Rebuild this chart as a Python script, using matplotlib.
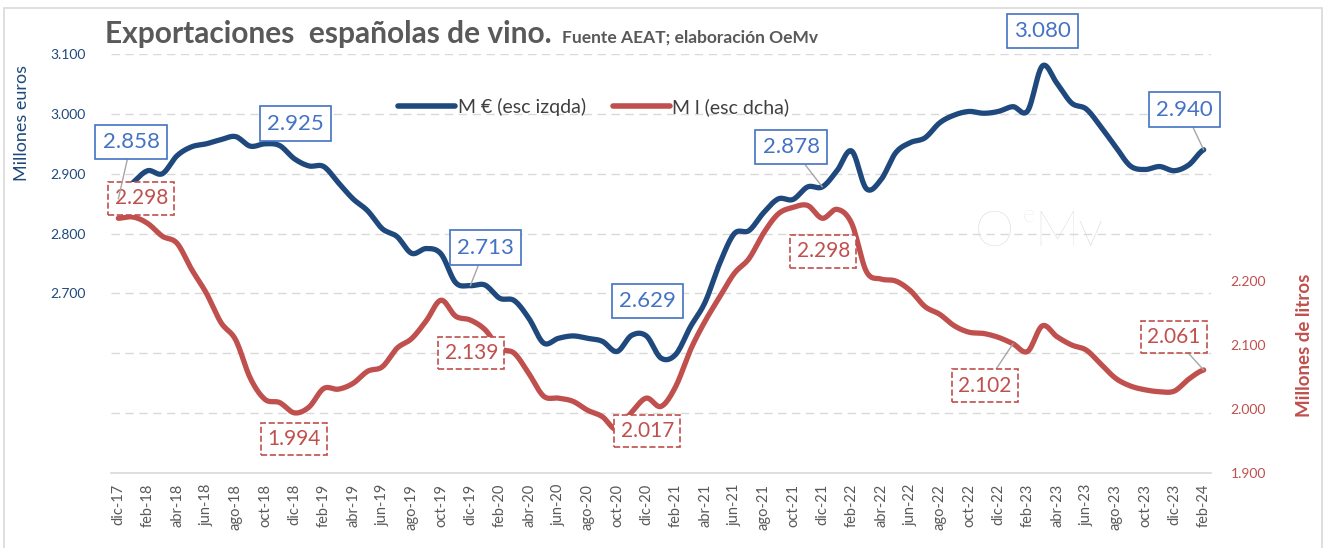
import numpy as np
import matplotlib
matplotlib.use('Agg')
import matplotlib.pyplot as plt
from matplotlib.patches import Rectangle
from matplotlib.lines import Line2D

plt.rcParams['font.family'] = ['Lato', 'DejaVu Sans']

# ---------------- data ----------------
month_names = ['ene', 'feb', 'mar', 'abr', 'may', 'jun', 'jul', 'ago', 'sep', 'oct', 'nov', 'dic']
categories = ['dic-17'] + [f'{m}-{y}' for y in range(18, 24) for m in month_names] + ['ene-24', 'feb-24']

euros = [2858, 2885, 2905, 2900, 2930, 2945, 2950, 2957, 2962, 2946,
         2950, 2947, 2925, 2913, 2912, 2885, 2858, 2838, 2808, 2795,
         2767, 2775, 2766, 2718, 2713, 2714, 2692, 2688, 2658, 2617,
         2625, 2629, 2625, 2620, 2603, 2630, 2629, 2592, 2598, 2644,
         2685, 2750, 2800, 2805, 2835, 2858, 2857, 2878, 2878, 2905,
         2938, 2875, 2890, 2935, 2952, 2960, 2985, 2998, 3004, 3001,
         3004, 3012, 3005, 3080, 3051, 3018, 3008, 2978, 2945, 2913,
         2907, 2912, 2905, 2915, 2940]

litros = [2298, 2300, 2290, 2270, 2259, 2218, 2181, 2135, 2108, 2048,
          2015, 2010, 1994, 2003, 2032, 2031, 2040, 2059, 2066, 2095,
          2110, 2138, 2170, 2145, 2139, 2124, 2095, 2087, 2055, 2020,
          2017, 2012, 1998, 1988, 1968, 1995, 2017, 2004, 2035, 2092,
          2137, 2175, 2212, 2235, 2275, 2305, 2315, 2318, 2298, 2312,
          2290, 2215, 2203, 2200, 2185, 2160, 2148, 2130, 2120, 2118,
          2112, 2102, 2090, 2130, 2113, 2100, 2092, 2070, 2048, 2036,
          2030, 2027, 2028, 2047, 2061]

# labelled points: (index, offset_x_px, offset_y_px, leader)
euro_labels = [(0, 13, 57, True), (12, 1, 35, False), (24, 15, 38, True),
               (36, 1, 35, False), (48, -31, 40, True), (63, 0, 35, False),
               (74, -19, 40, True)]
litro_labels = [(0, 23, 20, False), (12, 0, -26, False), (24, 1, -33, False),
                (36, 1, -33, False), (48, 1, -33, False), (61, -28, -42, True),
                (74, -30, 33, True)]

left_ticks = [2400, 2500, 2600, 2700, 2800, 2900, 3000, 3100]
right_ticks = [1900, 2000, 2100, 2200]

BLUE = '#1F497D'
RED = '#C0504D'
LBLUE = '#4472C4'
GREY = '#595959'


def fmt(v):
    return f'{v / 1000:.3f}'


def catmull(y, steps=12):
    y = np.asarray(y, float)
    p = np.concatenate([[y[0]], y, [y[-1]]])
    t = np.linspace(0, 1, steps, endpoint=False)
    xs, ys = [], []
    for i in range(len(y) - 1):
        p0, p1, p2, p3 = p[i], p[i + 1], p[i + 2], p[i + 3]
        yy = 0.5 * ((2 * p1) + (-p0 + p2) * t + (2 * p0 - 5 * p1 + 4 * p2 - p3) * t ** 2
                    + (-p0 + 3 * p1 - 3 * p2 + p3) * t ** 3)
        xs.append(i + t)
        ys.append(yy)
    xs.append([len(y) - 1])
    ys.append([y[-1]])
    return np.concatenate(xs), np.concatenate(ys)


W, H = 1324, 548
fig = plt.figure(figsize=(W / 100, H / 100), dpi=100)
fig.patch.set_facecolor('white')

# outer frame
fig.patches.append(Rectangle((4 / W, -0.02), (1322 - 4) / W, 1 - 8 / H + 0.02,
                             transform=fig.transFigure, fill=False,
                             ec='#D9D9D9', lw=1.2))

L, R, T, B = 111, 1211, 54, 473
ax = fig.add_axes([L / W, 1 - B / H, (R - L) / W, (B - T) / H])
ax2 = ax.twinx()

x = np.arange(len(categories))

# gridlines
ax.set_ylim(2400, 3100)
ax.set_xlim(-0.5, len(categories) - 0.5)
ax.set_yticks(left_ticks)
ax.set_yticklabels([fmt(v) if v >= 2700 else '' for v in left_ticks])
for v in left_ticks[1:]:
    ax.axhline(v, color='#D9D9D9', lw=1.0, ls=(0, (6, 4)), zorder=0)

ax.tick_params(axis='y', length=0, pad=18, labelsize=10, labelcolor=BLUE)
ax.set_xticks(x[::2])
ax.set_xticklabels(categories[::2], rotation=90, fontsize=10.5, color=GREY)
ax.tick_params(axis='x', length=0, pad=8)
for s in ['top', 'left', 'right']:
    ax.spines[s].set_visible(False)
ax.spines['bottom'].set_color('#D9D9D9')
ax.spines['bottom'].set_linewidth(1.2)

ax2.set_ylim(1900, 1900 + (B - T) / 0.64)
ax2.set_yticks(right_ticks)
ax2.set_yticklabels([fmt(v) for v in right_ticks])
ax2.tick_params(axis='y', length=0, pad=14, labelsize=10, labelcolor=RED)
for s in ['top', 'left', 'right', 'bottom']:
    ax2.spines[s].set_visible(False)

# lines
sx, sy = catmull(euros)
ax.plot(sx, sy, color=BLUE, lw=3.8, solid_capstyle='round', zorder=3)
sx2, sy2 = catmull(litros)
ax2.plot(sx2, sy2, color=RED, lw=3.8, solid_capstyle='round', zorder=3)

# data labels
for i, dx, dy, lead in litro_labels:
    ax2.annotate(fmt(litros[i]), xy=(i, litros[i]), xytext=(dx, dy),
                 textcoords='offset pixels', ha='center', va='center',
                 fontsize=15, color=RED, zorder=5,
                 bbox=dict(boxstyle='square,pad=0.3', fc='white', ec=RED, lw=1.2, ls='--'),
                 arrowprops=dict(arrowstyle='-', color='#A6A6A6', lw=1.0,
                                 shrinkA=0, shrinkB=0) if lead else None)
for i, dx, dy, lead in euro_labels:
    ax2.annotate(fmt(euros[i]), xy=(i, euros[i]), xycoords=ax.transData,
                 xytext=(dx, dy),
                 textcoords='offset pixels', ha='center', va='center',
                 fontsize=16, color=LBLUE, zorder=6,
                 bbox=dict(boxstyle='square,pad=0.33', fc='white', ec=LBLUE, lw=1.2),
                 arrowprops=dict(arrowstyle='-', color='#A6A6A6', lw=1.0,
                                 shrinkA=0, shrinkB=0) if lead else None)

# legend
handles = [Line2D([], [], color=BLUE, lw=4, solid_capstyle='round'),
           Line2D([], [], color=RED, lw=4, solid_capstyle='round')]
leg = ax2.legend(handles, ['M € (esc izqda)', 'M l (esc dcha)'], ncol=2,
                 loc='center', bbox_to_anchor=((594 - L) / (R - L), (B - 107) / (B - T)),
                 frameon=False, fontsize=14, handlelength=2.9, handletextpad=0.15,
                 columnspacing=1.4, labelcolor='#404040')

# watermark
wm = '#D3D8E2'
fig.text(975 / W, 1 - 246 / H, 'O', fontsize=36, color=wm, fontweight='light')
fig.text(1023 / W, 1 - 222 / H, 'e', fontsize=17, color=wm, fontweight='light')
fig.text(1034 / W, 1 - 246 / H, 'Mv', fontsize=36, color=wm, fontweight='light')

# titles & axis labels
fig.text(105 / W, 1 - 43 / H, 'Exportaciones  españolas de vino.', fontsize=21.5,
         fontweight='bold', color=GREY, va='baseline')
fig.text(562 / W, 1 - 43 / H, 'Fuente AEAT; elaboración OeMv', fontsize=12.5,
         fontweight='bold', color=GREY, va='baseline')
fig.text(22 / W, 1 - 123 / H, 'Millones euros', rotation=90, fontsize=13,
         color=BLUE, ha='center', va='center')
fig.text(1305 / W, 1 - 345 / H, 'Millones de litros', rotation=90, fontsize=13.5,
         fontweight='bold', color=RED, ha='center', va='center')

fig.savefig('out.png', dpi=100, facecolor='white')
